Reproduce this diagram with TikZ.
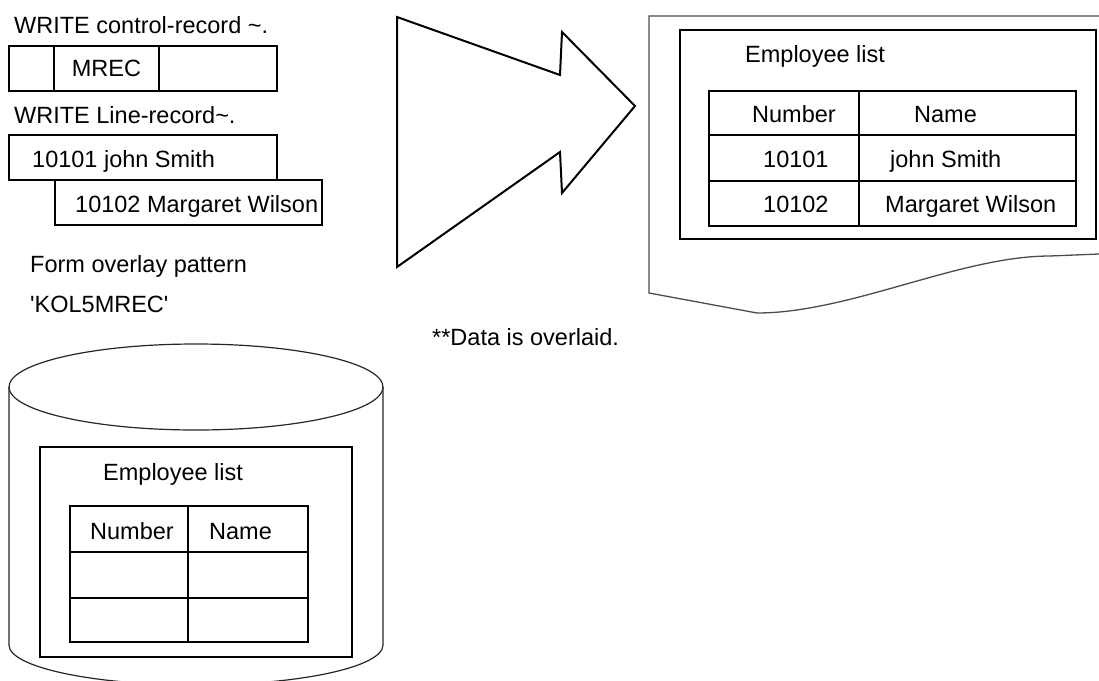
\documentclass[tikz,border=0pt]{standalone}
\usepackage{fontspec}
\setmainfont{Liberation Sans}
\usetikzlibrary{positioning}

\begin{document}
\begin{tikzpicture}[
  x=1pt, y=-1pt,
  font=\fontsize{23.5}{28}\selectfont,
  txt/.style={inner sep=0pt, anchor=base west},
  rec/.style={draw, line width=1.3pt, inner sep=0pt, outer sep=0pt,
              anchor=north west, minimum height=45pt},
  grid/.style={draw, line width=1.3pt},
  drum/.style={draw=black!85, line width=1.2pt},
  page/.style={draw=black!70, line width=1.3pt},
  bigarrow/.style={draw, line width=2pt, line join=miter},
]
\useasboundingbox (0,0) rectangle (1099,680);
\clip (0,0) rectangle (1099,680);
% records written by the program
\node[txt] (wctl) at (14,33) {WRITE control-record \textasciitilde.};
\node[rec, minimum width=45pt] (c1) at (9,46) {};
\node[rec, minimum width=105pt, right=0pt of c1] (c2) {MREC};
\node[rec, minimum width=118pt, right=0pt of c2] (c3) {};
\node[txt] (wline) at (14,123) {WRITE Line-record\textasciitilde.};
\node[rec, minimum width=268pt] (l1) at (9,135) {};
\node[rec, minimum width=267pt] (l2) at (55,180) {};
\node[txt] (l1txt) at (32,167) {10101 john Smith};
\node[txt] (l2txt) at (75,212) {10102 Margaret Wilson};
% form overlay pattern on disk
\node[txt] (fovl) at (30,272) {Form overlay pattern};
\node[txt] (fname) at (30,312) {\textquotesingle KOL5MREC\textquotesingle};
\draw[drum] (9,387) -- (9,645)
  arc[start angle=180, end angle=0, x radius=187, y radius=40] -- (383,387);
\draw[drum] (196,387) ellipse[x radius=187, y radius=43];
\node[rec, minimum width=312pt, minimum height=210pt] (form) at (40,447) {};
\node[txt] (ftitle) at (103,480) {Employee list};
\draw[grid] (70,506) rectangle (308,642);
\draw[grid] (70,552) -- (308,552) (70,598) -- (308,598) (188,506) -- (188,642);
\node[txt] (fnum) at (90,539) {Number};
\node[txt] (fnam) at (209,539) {Name};
% big arrow
\draw[bigarrow] (397,17) -- (560,75) -- (562,32) -- (635,106) -- (562,193)
  -- (560,152) -- (397,267) -- cycle;
% printed page
\draw[page] (1099,16) -- (649,16) -- (649,293) -- (757,313)
  .. controls (850,313) and (960,256) .. (1050,256) -- (1099,254);
\node[rec, minimum width=416pt, minimum height=209pt] (list) at (680,30) {};
\node[txt] (ptitle) at (745,62) {Employee list};
\draw[grid] (709,91) rectangle (1076,226);
\draw[grid] (709,135) -- (1076,135) (709,181) -- (1076,181) (859,91) -- (859,226);
\node[txt] (pnum) at (752,122) {Number};
\node[txt] (pnam) at (914,122) {Name};
\node[txt] (pn1) at (763,167) {10101};
\node[txt] (pm1) at (890,167) {john Smith};
\node[txt] (pn2) at (763,212) {10102};
\node[txt] (pm2) at (885,212) {Margaret Wilson};
\node[txt] (note) at (432,345) {**Data is overlaid.};
\end{tikzpicture}
\end{document}
